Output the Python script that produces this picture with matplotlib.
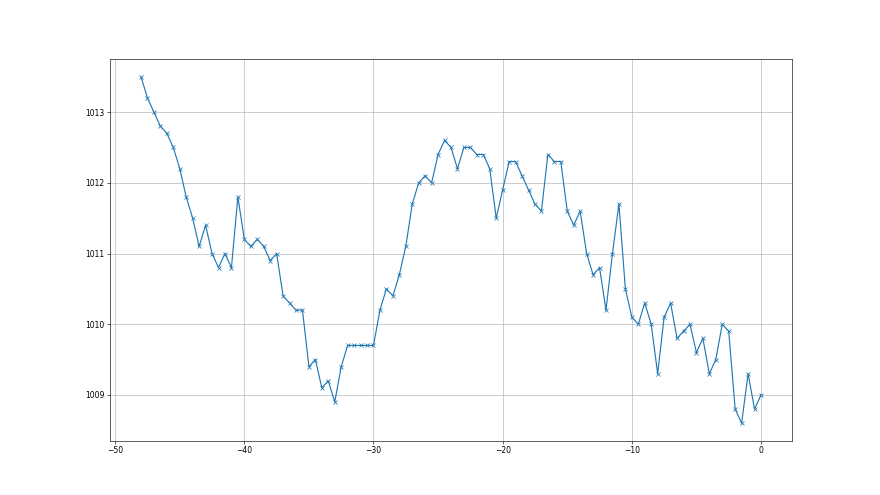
import numpy as np
import matplotlib
matplotlib.use("Agg")
import matplotlib.pyplot as plt

# ---------- Datos ----------
# Horas relativas (cada media hora) y presión
hours = np.arange(-48, 0.5, 0.5)
pressure = [
    1013.5, 1013.2, 1013.0, 1012.8, 1012.7, 1012.5, 1012.2, 1011.8, 1011.5, 1011.1,
    1011.4, 1011.0, 1010.8, 1011.0, 1010.8, 1011.8, 1011.2, 1011.1, 1011.2, 1011.1,
    1010.9, 1011.0, 1010.4, 1010.3, 1010.2, 1010.2, 1009.4, 1009.5, 1009.1, 1009.2,
    1008.9, 1009.4, 1009.7, 1009.7, 1009.7, 1009.7, 1009.7, 1010.2, 1010.5, 1010.4,
    1010.7, 1011.1, 1011.7, 1012.0, 1012.1, 1012.0, 1012.4, 1012.6, 1012.5, 1012.2,
    1012.5, 1012.5, 1012.4, 1012.4, 1012.2, 1011.5, 1011.9, 1012.3, 1012.3, 1012.1,
    1011.9, 1011.7, 1011.6, 1012.4, 1012.3, 1012.3, 1011.6, 1011.4, 1011.6, 1011.0,
    1010.7, 1010.8, 1010.2, 1011.0, 1011.7, 1010.5, 1010.1, 1010.0, 1010.3, 1010.0,
    1009.3, 1010.1, 1010.3, 1009.8, 1009.9, 1010.0, 1009.6, 1009.8, 1009.3, 1009.5,
    1010.0, 1009.9, 1008.8, 1008.6, 1009.3, 1008.8, 1009.0,
]

# ---------- Gráfica ----------
fig = plt.figure(figsize=(16, 9), dpi=55)
plt.plot(hours, pressure, marker="x")
plt.grid()
plt.savefig("out.png", dpi=55)
plt.close()
